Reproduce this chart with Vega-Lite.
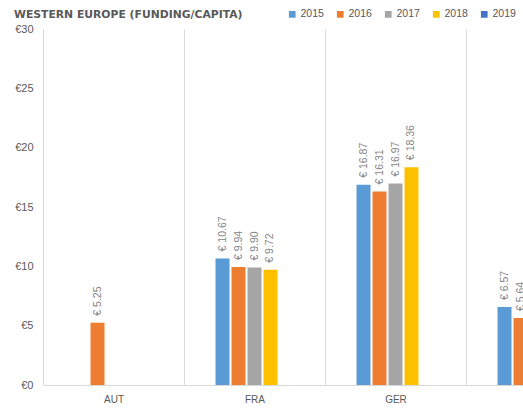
{
  "$schema": "https://vega.github.io/schema/vega-lite/v6.json",
  "autosize": "none",
  "padding": {"left": 43, "top": 29, "right": 0, "bottom": 27},
  "width": 564,
  "height": 356,
  "background": "white",
  "title": {
    "text": "WESTERN EUROPE (FUNDING/CAPITA)",
    "anchor": "start",
    "frame": "group",
    "orient": "top",
    "font": "DejaVu Sans",
    "fontWeight": "bold",
    "fontSize": 10.8,
    "color": "#595959",
    "dx": -29,
    "offset": 0,
    "dy": 11
  },
  "data": {
    "values": [
      {"country": "AUT", "year": "2016", "value": 5.25},
      {"country": "FRA", "year": "2015", "value": 10.67},
      {"country": "FRA", "year": "2016", "value": 9.94},
      {"country": "FRA", "year": "2017", "value": 9.90},
      {"country": "FRA", "year": "2018", "value": 9.72},
      {"country": "GER", "year": "2015", "value": 16.87},
      {"country": "GER", "year": "2016", "value": 16.31},
      {"country": "GER", "year": "2017", "value": 16.97},
      {"country": "GER", "year": "2018", "value": 18.36},
      {"country": "NED", "year": "2015", "value": 6.57},
      {"country": "NED", "year": "2016", "value": 5.64}
    ]
  },
  "transform": [
    {"calculate": "'€ ' + format(datum.value, '.2f')", "as": "label"}
  ],
  "encoding": {
    "x": {
      "field": "country",
      "type": "nominal",
      "sort": null,
      "scale": {"domain": ["AUT", "FRA", "GER", "NED"], "paddingInner": 0, "paddingOuter": 0},
      "axis": {
        "title": null,
        "labelAngle": 0,
        "labelFont": "Liberation Sans",
        "labelFontSize": 10,
        "labelColor": "#595959",
        "labelPadding": 9,
        "ticks": false,
        "tickBand": "extent",
        "grid": true,
        "gridColor": "#d9d9d9",
        "gridWidth": 1,
        "domain": true,
        "domainColor": "#d9d9d9",
        "domainWidth": 1.2
      }
    },
    "xOffset": {
      "field": "year",
      "type": "nominal",
      "scale": {"domain": ["_l", "2015", "2016", "2017", "2018", "2019", "_r"], "paddingInner": 0.125, "paddingOuter": 0.97}
    },
    "y": {
      "field": "value",
      "type": "quantitative",
      "scale": {"domain": [0, 30], "nice": false},
      "axis": {
        "title": null,
        "values": [0, 5, 10, 15, 20, 25, 30],
        "labelExpr": "'€' + datum.label",
        "labelFont": "Liberation Sans",
        "labelFontSize": 11,
        "labelColor": "#595959",
        "labelPadding": 10,
        "ticks": false,
        "grid": false,
        "domain": false
      }
    }
  },
  "layer": [
    {
      "mark": {"type": "bar"},
      "encoding": {
        "color": {
          "field": "year",
          "type": "nominal",
          "scale": {
            "domain": ["2015", "2016", "2017", "2018", "2019"],
            "range": ["#5B9BD5", "#ED7D31", "#A5A5A5", "#FFC000", "#4472C4"]
          },
          "legend": {
            "title": null,
            "orient": "none",
            "legendX": 244,
            "legendY": -20,
            "direction": "horizontal",
            "columns": 5,
            "symbolType": "square",
            "symbolSize": 45,
            "symbolStrokeWidth": 0,
            "labelFont": "Liberation Sans",
            "labelFontSize": 10.5,
            "labelColor": "#595959",
            "labelOffset": 3,
            "columnPadding": 11
          }
        }
      }
    },
    {
      "mark": {
        "type": "text",
        "angle": 270,
        "align": "left",
        "baseline": "middle",
        "dx": 7,
        "font": "Liberation Sans",
        "fontSize": 10.5,
        "color": "#858585"
      },
      "encoding": {
        "text": {"field": "label", "type": "nominal"}
      }
    }
  ],
  "config": {
    "view": {"stroke": null}
  }
}
